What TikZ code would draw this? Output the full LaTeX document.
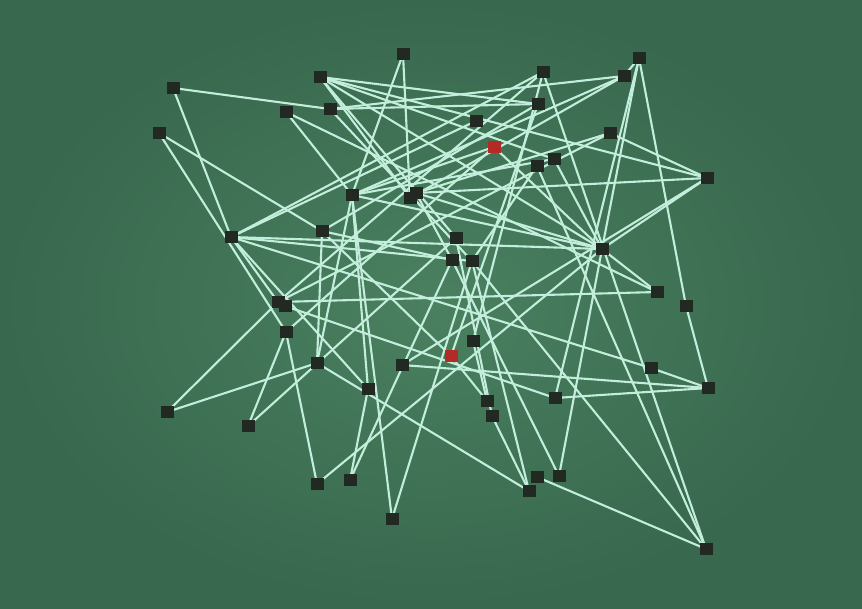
\documentclass[tikz,border=0pt]{standalone}
\definecolor{bgin}{RGB}{74,128,96}
\definecolor{bgout}{RGB}{56,104,78}
\definecolor{edgec}{RGB}{196,238,220}
\definecolor{nodec}{RGB}{34,40,34}
\definecolor{redc}{RGB}{180,42,36}
\pgfdeclarelayer{bg}
\pgfsetlayers{bg,main}
\begin{document}
\begin{tikzpicture}[x=1pt,y=-1pt,
  vert/.style={fill=nodec, minimum width=13pt, minimum height=12pt, inner sep=0pt, draw=none},
  redv/.style={vert, fill=redc},
  link/.style={draw=edgec, line width=2.1pt}]
\useasboundingbox (0,0) rectangle (862,608);
\node[vert] (n1) at (173,88) {};
\node[vert] (n2) at (159,133) {};
\node[vert] (n3) at (320,77) {};
\node[vert] (n4) at (403,54) {};
\node[vert] (n5) at (286,112) {};
\node[vert] (n6) at (330,109) {};
\node[vert] (n7) at (543,72) {};
\node[vert] (n8) at (639,58) {};
\node[vert] (n9) at (624,76) {};
\node[vert] (n10) at (538,104) {};
\node[vert] (n11) at (476,121) {};
\node[redv] (n12) at (494,147) {};
\node[vert] (n13) at (610,133) {};
\node[vert] (n14) at (554,159) {};
\node[vert] (n15) at (537,166) {};
\node[vert] (n16) at (707,178) {};
\node[vert] (n17) at (352,195) {};
\node[vert] (n18) at (416,193) {};
\node[vert] (n19) at (410,198) {};
\node[vert] (n20) at (231,237) {};
\node[vert] (n21) at (322,231) {};
\node[vert] (n22) at (456,238) {};
\node[vert] (n23) at (452,260) {};
\node[vert] (n24) at (472,261) {};
\node[vert] (n25) at (602,249) {};
\node[vert] (n26) at (278,302) {};
\node[vert] (n27) at (285,306) {};
\node[vert] (n28) at (286,332) {};
\node[vert] (n29) at (657,292) {};
\node[vert] (n30) at (686,306) {};
\node[vert] (n31) at (473,341) {};
\node[redv] (n32) at (451,356) {};
\node[vert] (n33) at (402,365) {};
\node[vert] (n34) at (317,363) {};
\node[vert] (n35) at (368,389) {};
\node[vert] (n36) at (167,412) {};
\node[vert] (n37) at (248,426) {};
\node[vert] (n38) at (487,401) {};
\node[vert] (n39) at (492,416) {};
\node[vert] (n40) at (555,398) {};
\node[vert] (n41) at (651,368) {};
\node[vert] (n42) at (708,388) {};
\node[vert] (n43) at (317,484) {};
\node[vert] (n44) at (350,480) {};
\node[vert] (n45) at (392,519) {};
\node[vert] (n46) at (529,491) {};
\node[vert] (n47) at (537,477) {};
\node[vert] (n48) at (559,476) {};
\node[vert] (n49) at (706,549) {};
\begin{pgfonlayer}{bg}
\shade[inner color=bgin, outer color=bgout] (0,0) rectangle (862,608);
\foreach \a/\b in {n1/n6, n1/n20, n2/n21, n2/n28, n3/n16, n3/n25, n3/n14, n3/n22, n3/n19,
  n4/n17, n4/n19, n5/n17, n5/n29, n6/n9, n6/n10, n6/n24, n7/n20, n7/n26, n7/n31, n7/n49,
  n8/n9, n8/n40, n8/n30, n30/n42, n8/n25, n9/n17, n9/n19, n13/n16, n13/n26, n14/n17,
  n16/n25, n20/n11, n17/n12, n20/n24, n20/n41, n20/n26, n20/n25, n26/n29, n36/n26, n36/n34,
  n37/n28, n37/n22, n43/n28, n43/n25, n44/n35, n44/n23, n45/n17, n45/n24, n34/n46, n47/n49,
  n15/n49, n24/n49, n41/n42, n33/n42, n40/n42, n25/n29, n39/n46, n24/n46, n23/n48, n25/n48,
  n31/n38, n32/n38, n21/n32, n32/n10, n33/n16, n35/n20, n18/n13, n18/n16, n17/n35, n17/n34,
  n18/n23, n21/n23, n21/n34, n15/n24, n14/n25, n18/n25, n17/n25, n12/n25, n12/n28, n27/n40,
  n10/n21, n3/n10, n22/n39}
  \draw[link] (\a.center) -- (\b.center);
\end{pgfonlayer}
\end{tikzpicture}
\end{document}
